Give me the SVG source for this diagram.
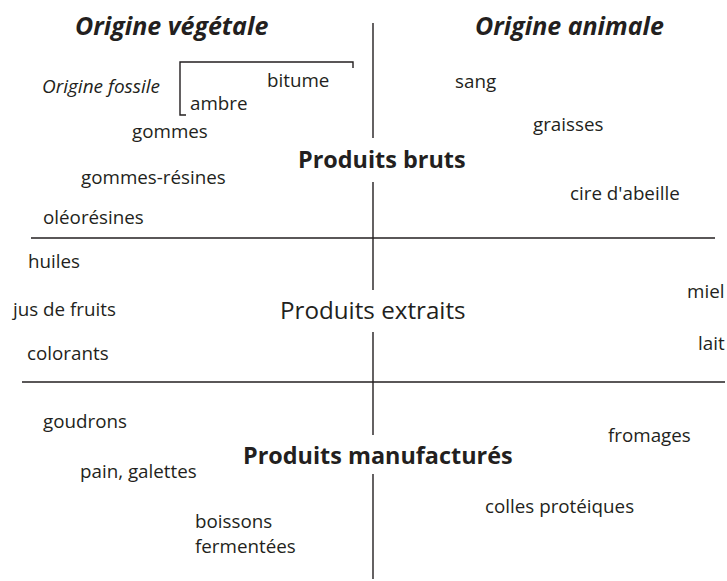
<svg xmlns="http://www.w3.org/2000/svg" width="727" height="581" viewBox="0 0 727 581">
<style>
text{font-family:"Open Sans","Noto Sans",sans-serif;fill:#231f20}
.l{font-size:18.8px}
.h{font-size:25px;font-weight:bold;font-style:italic}
.p{font-size:23.4px;font-weight:bold}
.pr{font-size:24.2px}
.i{font-size:19px;font-style:italic}
line,path{stroke:#231f20;stroke-width:1.4;fill:none}
</style>
<rect width="727" height="581" fill="#fff"/>
<g id="connectors">
<line x1="373" y1="23" x2="373" y2="138"/>
<line x1="373" y1="182" x2="373" y2="290"/>
<line x1="373" y1="332" x2="373" y2="435"/>
<line x1="373" y1="474" x2="373" y2="579"/>
<line x1="31" y1="238" x2="715" y2="238"/>
<line x1="22" y1="382" x2="725" y2="382"/>
<path d="M186,115 H180 V62 H353 V68"/>
</g>
<g id="headers">
<text class="h" x="75" y="35">Origine végétale</text>
<text class="h" x="475" y="35">Origine animale</text>
</g>
<g id="categories">
<text class="p" x="298" y="168">Produits bruts</text>
<text class="pr" x="280" y="319">Produits extraits</text>
<text class="p" x="243" y="464">Produits manufacturés</text>
</g>
<g id="vegetal">
<text class="i" x="42" y="93">Origine fossile</text>
<text class="l" x="267" y="87">bitume</text>
<text class="l" x="190" y="110">ambre</text>
<text class="l" x="132" y="138">gommes</text>
<text class="l" x="81" y="184">gommes-résines</text>
<text class="l" x="43" y="224">oléorésines</text>
<text class="l" x="28" y="268">huiles</text>
<text class="l" x="13" y="316">jus de fruits</text>
<text class="l" x="27" y="360">colorants</text>
<text class="l" x="43" y="428">goudrons</text>
<text class="l" x="80" y="478">pain, galettes</text>
<text class="l" x="195" y="528">boissons</text>
<text class="l" x="195" y="553">fermentées</text>
</g>
<g id="animal">
<text class="l" x="455" y="88">sang</text>
<text class="l" x="533" y="131">graisses</text>
<text class="l" x="570" y="200">cire d'abeille</text>
<text class="l" x="687" y="298">miel</text>
<text class="l" x="698" y="350">lait</text>
<text class="l" x="608" y="442">fromages</text>
<text class="l" x="485" y="513">colles protéiques</text>
</g>
</svg>
